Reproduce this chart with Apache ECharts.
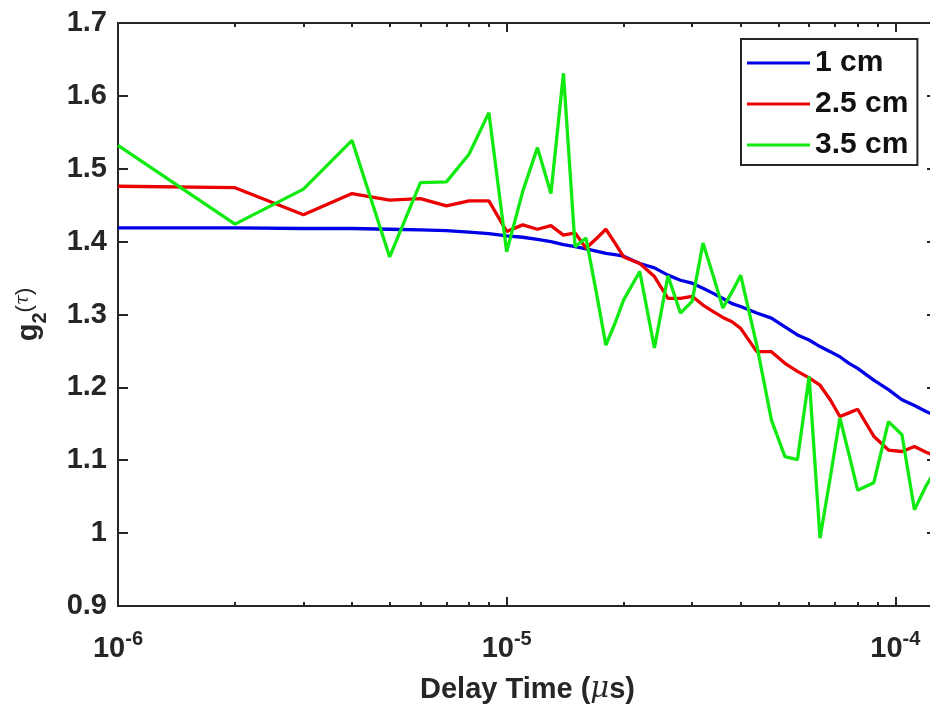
<!DOCTYPE html>
<html>
<head>
<meta charset="utf-8">
<title>g2(tau) vs delay time</title>
<script src="https://cdn.jsdelivr.net/npm/echarts@6/dist/echarts.min.js"></script>
<style>
  html, body { margin: 0; padding: 0; background: #fff; }
  #chart { width: 930px; height: 708px; }
</style>
</head>
<body>
<div id="chart"></div>
<script>
// Multi-tau lag times (seconds shown as powers of ten on a log axis)
const delayTime = [
  1e-6, 2e-6, 3e-6, 4e-6, 5e-6, 6e-6, 7e-6, 8e-6, 9e-6, 10e-6,
  11e-6, 12e-6, 13e-6, 14e-6, 15e-6, 16e-6, 17e-6, 18e-6, 19e-6, 20e-6,
  22e-6, 24e-6, 26e-6, 28e-6, 30e-6, 32e-6, 34e-6, 36e-6, 38e-6, 40e-6,
  44e-6, 48e-6, 52e-6, 56e-6, 60e-6, 64e-6, 68e-6, 72e-6, 76e-6, 80e-6,
  88e-6, 96e-6, 104e-6, 112e-6, 120e-6, 128e-6
];

// g2 for source-detector separation 1 cm
const g2_1cm = [
  1.419, 1.419, 1.418, 1.418, 1.417, 1.416, 1.415, 1.413, 1.411, 1.408,
  1.406, 1.403, 1.400, 1.396, 1.393, 1.390, 1.387, 1.384, 1.382, 1.380,
  1.370, 1.364, 1.354, 1.347, 1.343, 1.336, 1.329, 1.322, 1.315, 1.311,
  1.302, 1.295, 1.283, 1.272, 1.265, 1.256, 1.249, 1.242, 1.233, 1.226,
  1.210, 1.197, 1.183, 1.175, 1.167, 1.160
];

// g2 for 2.5 cm
const g2_2p5cm = [
  1.476, 1.474, 1.437, 1.466, 1.457, 1.459, 1.449, 1.456, 1.456, 1.414,
  1.423, 1.417, 1.422, 1.409, 1.412, 1.391, 1.404, 1.417, 1.398, 1.379,
  1.370, 1.352, 1.322, 1.322, 1.325, 1.313, 1.304, 1.296, 1.290, 1.281,
  1.249, 1.249, 1.233, 1.222, 1.213, 1.203, 1.183, 1.160, 1.165, 1.170,
  1.133, 1.114, 1.112, 1.119, 1.111, 1.105
];

// g2 for 3.5 cm
const g2_3p5cm = [
  1.532, 1.424, 1.472, 1.539, 1.379, 1.481, 1.482, 1.520, 1.577, 1.386,
  1.469, 1.529, 1.466, 1.631, 1.393, 1.405, 1.331, 1.258, 1.288, 1.320,
  1.359, 1.254, 1.353, 1.302, 1.318, 1.398, 1.353, 1.309, 1.331, 1.354,
  1.258, 1.155, 1.105, 1.101, 1.215, 0.993, 1.076, 1.158, 1.108, 1.059,
  1.069, 1.153, 1.135, 1.032, 1.065, 1.090
];

const seriesNames = ['1 cm', '2.5 cm', '3.5 cm'];
const seriesColors = ['#0000e6', '#ea0000', '#10ea10'];

// Axis ticks
const xMajorTicks = [1e-6, 1e-5, 1e-4];
const xMinorTicks = [
  2e-6, 3e-6, 4e-6, 5e-6, 6e-6, 7e-6, 8e-6, 9e-6,
  2e-5, 3e-5, 4e-5, 5e-5, 6e-5, 7e-5, 8e-5, 9e-5
];
const xMin = 1e-6, xMax = 128e-6;
const yMin = 0.9, yMax = 1.7, yStep = 0.1;

const ink = '#262626';
const font = '"Liberation Sans", Arial, Helvetica, sans-serif';

function pairs(ys) {
  return delayTime.map((t, i) => [t, ys[i]]);
}

function xAxisBase(extra) {
  return Object.assign({
    type: 'log',
    logBase: 10,
    min: xMin,
    max: xMax,
    gridIndex: 0,
    splitLine: { show: false },
    axisLine: { show: true, lineStyle: { color: ink, width: 2 } },
    axisLabel: { show: false },
    axisTick: { show: false }
  }, extra);
}

const chart = echarts.init(document.getElementById('chart'), null, { renderer: 'canvas' });

chart.setOption({
  animation: false,
  backgroundColor: '#ffffff',
  grid: {
    left: 118, top: 23, right: -7, bottom: 102,
    containLabel: false,
    outerBoundsMode: 'none'
  },
  legend: {
    data: seriesNames,
    orient: 'vertical',
    left: 741,
    top: 39,
    icon: 'rect',
    itemWidth: 63,
    itemHeight: 3,
    itemGap: 5,
    padding: [6, 9, 2, 6],
    borderColor: ink,
    borderWidth: 2,
    backgroundColor: '#ffffff',
    textStyle: {
      fontFamily: font, fontWeight: 'bold', fontSize: 30, color: '#111', lineHeight: 36
    }
  },
  xAxis: [
    // bottom: major ticks + labels + name
    xAxisBase({
      position: 'bottom',
      name: '{n|Delay Time (}{i|\u03bc}{n|s)}',
      nameLocation: 'middle',
      nameGap: 69,
      nameTextStyle: {
        rich: {
          n: { fontFamily: font, fontWeight: 'bold', fontSize: 29, color: ink },
          i: { fontFamily: '"DejaVu Serif", "Liberation Serif", serif', fontStyle: 'italic', fontSize: 29, color: ink }
        }
      },
      axisTick: { show: true, inside: true, length: 9, customValues: xMajorTicks,
                  lineStyle: { color: ink, width: 2 } },
      axisLabel: {
        show: true,
        customValues: xMajorTicks,
        margin: 23,
        formatter: function (v) {
          const e = Math.round(Math.log10(v));
          return '{b|10}{s|' + e + '}';
        },
        rich: {
          b: { fontFamily: font, fontWeight: 'bold', fontSize: 29, color: ink, verticalAlign: 'bottom', lineHeight: 34 },
          s: { fontFamily: font, fontWeight: 'bold', fontSize: 20, color: ink, verticalAlign: 'top', lineHeight: 34 }
        }
      }
    }),
    // bottom: minor ticks
    xAxisBase({
      position: 'bottom',
      axisLine: { show: false },
      axisTick: { show: true, inside: true, length: 4, customValues: xMinorTicks,
                  lineStyle: { color: ink, width: 2 } }
    }),
    // top: major ticks
    xAxisBase({
      position: 'top',
      axisTick: { show: true, inside: true, length: 9, customValues: xMajorTicks,
                  lineStyle: { color: ink, width: 2 } }
    }),
    // top: minor ticks
    xAxisBase({
      position: 'top',
      axisLine: { show: false },
      axisTick: { show: true, inside: true, length: 4, customValues: xMinorTicks,
                  lineStyle: { color: ink, width: 2 } }
    })
  ],
  yAxis: [
    {
      type: 'value',
      min: yMin, max: yMax, interval: yStep,
      position: 'left',
      name: '{g|g}{sub|2}{p|(}{t|\u03c4}{p|)}',
      nameLocation: 'middle',
      nameGap: 68,
      nameRotate: 90,
      nameTextStyle: {
        rich: {
          g: { fontFamily: font, fontWeight: 'bold', fontSize: 29, color: ink, verticalAlign: 'top', lineHeight: 36 },
          sub: { fontFamily: font, fontWeight: 'bold', fontSize: 20, color: ink, verticalAlign: 'bottom', lineHeight: 36 },
          p: { fontFamily: font, fontSize: 22, color: ink, verticalAlign: 'top', lineHeight: 36 },
          t: { fontFamily: '"DejaVu Serif", "Liberation Serif", serif', fontStyle: 'italic', fontSize: 18, color: ink, verticalAlign: 'top', lineHeight: 36 }
        }
      },
      splitLine: { show: false },
      axisLine: { show: true, lineStyle: { color: ink, width: 2 } },
      axisTick: { show: true, inside: true, length: 10, lineStyle: { color: ink, width: 2 } },
      axisLabel: {
        margin: 11,
        fontFamily: font, fontWeight: 'bold', fontSize: 29, color: ink
      }
    },
    {
      type: 'value',
      min: yMin, max: yMax, interval: yStep,
      position: 'right',
      splitLine: { show: false },
      axisLine: { show: true, lineStyle: { color: ink, width: 2 } },
      axisTick: { show: true, inside: true, length: 10, lineStyle: { color: ink, width: 2 } },
      axisLabel: { show: false }
    }
  ],
  series: [g2_1cm, g2_2p5cm, g2_3p5cm].map((ys, k) => ({
    name: seriesNames[k],
    type: 'line',
    xAxisIndex: 0,
    yAxisIndex: 0,
    data: pairs(ys),
    showSymbol: false,
    symbol: 'none',
    color: seriesColors[k],
    lineStyle: { color: seriesColors[k], width: 3.3 },
    z: 3
  }))
});
</script>
</body>
</html>
